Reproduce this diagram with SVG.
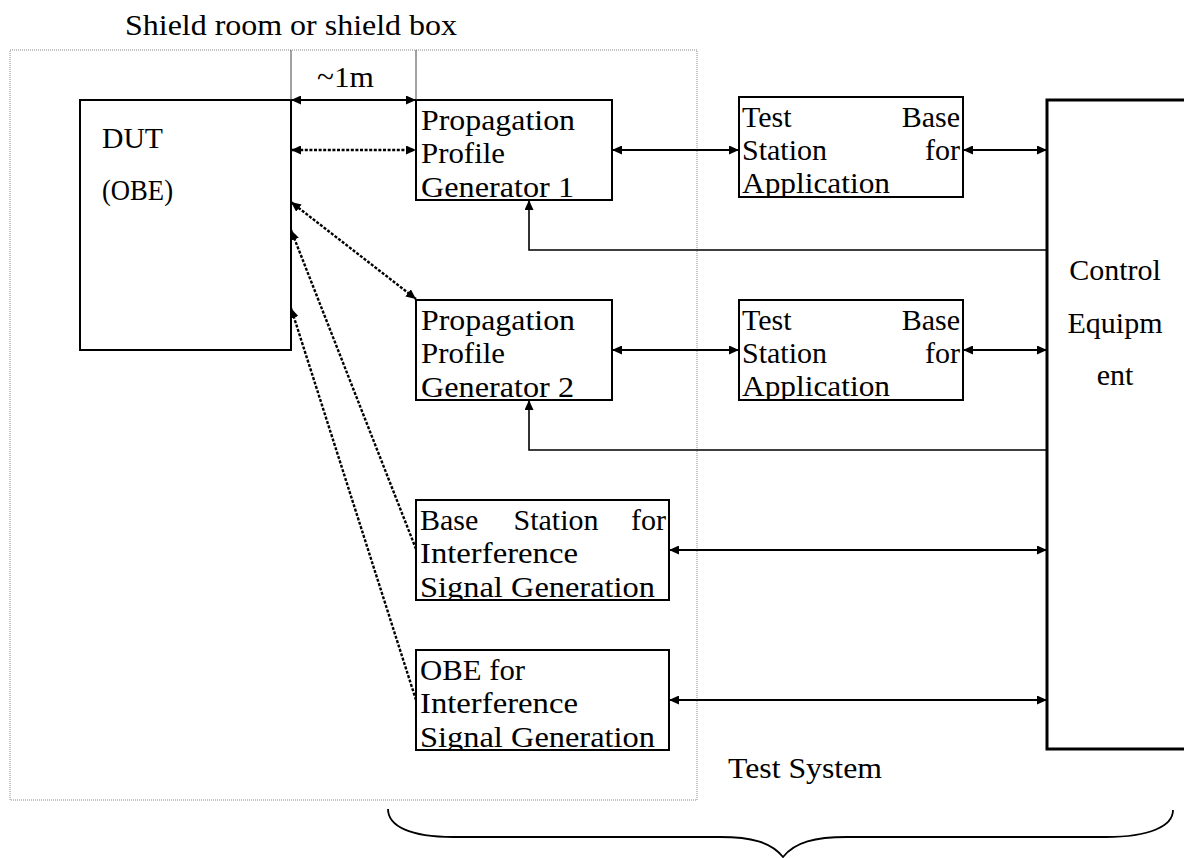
<svg xmlns="http://www.w3.org/2000/svg" width="1184" height="858" viewBox="0 0 1184 858" font-family="'Liberation Serif', 'DejaVu Serif', serif">
<style>
text{font-family:'Liberation Serif','DejaVu Serif',serif;font-size:30px;fill:#000}
.box{fill:none;stroke:#000;stroke-width:2}
.ctrl{fill:none;stroke:#000;stroke-width:3}
.ln{fill:none;stroke:#000;stroke-width:2}
.fb{fill:none;stroke:#000;stroke-width:1.6}
.dot{fill:none;stroke:#000;stroke-width:2.4;stroke-dasharray:3 1.6}
.ext{fill:none;stroke:#444;stroke-width:1}
.shield{fill:none;stroke:#888;stroke-width:1;stroke-dasharray:1 1}
.brace{fill:none;stroke:#000;stroke-width:1.8}
</style>
<defs>
<marker id="ah" viewBox="0 0 10 9" refX="10" refY="4.5" markerWidth="10" markerHeight="9" markerUnits="userSpaceOnUse" orient="auto-start-reverse">
<path d="M0,0 L10,4.5 L0,9 z" fill="#000"/>
</marker>
<clipPath id="cT1" clipPathUnits="userSpaceOnUse"><rect x="739" y="97" width="224" height="100"/></clipPath>
<clipPath id="cT2" clipPathUnits="userSpaceOnUse"><rect x="739" y="300" width="224" height="100"/></clipPath>
<clipPath id="cBS" clipPathUnits="userSpaceOnUse"><rect x="416" y="500" width="253" height="100"/></clipPath>
<clipPath id="cOB" clipPathUnits="userSpaceOnUse"><rect x="416" y="650" width="253" height="100"/></clipPath>
</defs>

<g id="shield">
<rect class="shield" x="10" y="50" width="687" height="750"/>
<text x="125" y="35" textLength="332" lengthAdjust="spacingAndGlyphs">Shield room or shield box</text>
</g>

<g id="dut">
<rect class="box" x="80" y="100" width="211" height="250"/>
<text x="102" y="148" textLength="61" lengthAdjust="spacingAndGlyphs">DUT</text>
<text x="102" y="200" textLength="71" lengthAdjust="spacingAndGlyphs">(OBE)</text>
</g>

<g id="ppg1">
<rect class="box" x="416" y="100" width="196" height="100"/>
<text x="421" y="130" textLength="154" lengthAdjust="spacingAndGlyphs">Propagation</text>
<text x="421" y="163" textLength="84" lengthAdjust="spacingAndGlyphs">Profile</text>
<text x="421" y="197" textLength="153" lengthAdjust="spacingAndGlyphs">Generator 1</text>
</g>

<g id="ppg2">
<rect class="box" x="416" y="300" width="196" height="100"/>
<text x="421" y="330" textLength="154" lengthAdjust="spacingAndGlyphs">Propagation</text>
<text x="421" y="363" textLength="84" lengthAdjust="spacingAndGlyphs">Profile</text>
<text x="421" y="397" textLength="153" lengthAdjust="spacingAndGlyphs">Generator 2</text>
</g>

<g id="tbs1">
<rect class="box" x="739" y="97" width="224" height="100"/>
<g clip-path="url(#cT1)">
<text x="742" y="127">Test</text>
<text x="960" y="127" text-anchor="end">Base</text>
<text x="742" y="160">Station</text>
<text x="960" y="160" text-anchor="end">for</text>
<text x="742" y="193" textLength="148" lengthAdjust="spacingAndGlyphs">Application</text>
</g>
</g>

<g id="tbs2">
<rect class="box" x="739" y="300" width="224" height="100"/>
<g clip-path="url(#cT2)">
<text x="742" y="330">Test</text>
<text x="960" y="330" text-anchor="end">Base</text>
<text x="742" y="363">Station</text>
<text x="960" y="363" text-anchor="end">for</text>
<text x="742" y="396" textLength="148" lengthAdjust="spacingAndGlyphs">Application</text>
</g>
</g>

<g id="bsint">
<rect class="box" x="416" y="500" width="253" height="100"/>
<g clip-path="url(#cBS)">
<text x="420" y="530">Base</text>
<text x="556" y="530" text-anchor="middle">Station</text>
<text x="666" y="530" text-anchor="end">for</text>
<text x="420" y="563" textLength="158" lengthAdjust="spacingAndGlyphs">Interference</text>
<text x="420" y="597" textLength="235" lengthAdjust="spacingAndGlyphs">Signal Generation</text>
</g>
</g>

<g id="obeint">
<rect class="box" x="416" y="650" width="253" height="100"/>
<g clip-path="url(#cOB)">
<text x="420" y="680" textLength="105" lengthAdjust="spacingAndGlyphs">OBE for</text>
<text x="420" y="713" textLength="158" lengthAdjust="spacingAndGlyphs">Interference</text>
<text x="420" y="747" textLength="235" lengthAdjust="spacingAndGlyphs">Signal Generation</text>
</g>
</g>

<g id="control">
<rect class="ctrl" x="1047" y="100" width="160" height="649"/>
<text x="1115" y="280" text-anchor="middle">Control</text>
<text x="1115" y="333" text-anchor="middle">Equipm</text>
<text x="1115" y="385" text-anchor="middle">ent</text>
</g>

<g id="testsystem">
<path class="brace" d="M388,809 C388,826 410,837 453,837 L720,837 C751,837 771,842 783,857 C795,842 815,837 847,837 L1106,837 C1150,837 1173,826 1173,810"/>
<text x="728" y="778" textLength="154" lengthAdjust="spacingAndGlyphs">Test System</text>
</g>

<g id="connectors">
<line class="ext" x1="291" y1="50" x2="291" y2="100"/>
<line class="ext" x1="416" y1="50" x2="416" y2="100"/>
<line class="ln" x1="291" y1="100" x2="416" y2="100" marker-start="url(#ah)" marker-end="url(#ah)"/>
<text x="317" y="87" textLength="57" lengthAdjust="spacingAndGlyphs">~1m</text>
<line class="dot" x1="291" y1="150" x2="416" y2="150" marker-start="url(#ah)" marker-end="url(#ah)"/>
<line class="dot" x1="291" y1="202" x2="416" y2="299" marker-start="url(#ah)" marker-end="url(#ah)"/>
<line class="dot" x1="416" y1="549" x2="291" y2="230" marker-end="url(#ah)"/>
<line class="dot" x1="416" y1="700" x2="291" y2="308" marker-end="url(#ah)"/>
<line class="ln" x1="612" y1="150" x2="739" y2="150" marker-start="url(#ah)" marker-end="url(#ah)"/>
<line class="ln" x1="963" y1="150" x2="1047" y2="150" marker-start="url(#ah)" marker-end="url(#ah)"/>
<line class="ln" x1="612" y1="350" x2="739" y2="350" marker-start="url(#ah)" marker-end="url(#ah)"/>
<line class="ln" x1="963" y1="350" x2="1047" y2="350" marker-start="url(#ah)" marker-end="url(#ah)"/>
<line class="ln" x1="669" y1="550" x2="1047" y2="550" marker-start="url(#ah)" marker-end="url(#ah)"/>
<line class="ln" x1="669" y1="700" x2="1047" y2="700" marker-start="url(#ah)" marker-end="url(#ah)"/>
<polyline class="fb" points="1047,250 529,250 529,200" marker-end="url(#ah)"/>
<polyline class="fb" points="1047,450 529,450 529,400" marker-end="url(#ah)"/>
</g>
</svg>
